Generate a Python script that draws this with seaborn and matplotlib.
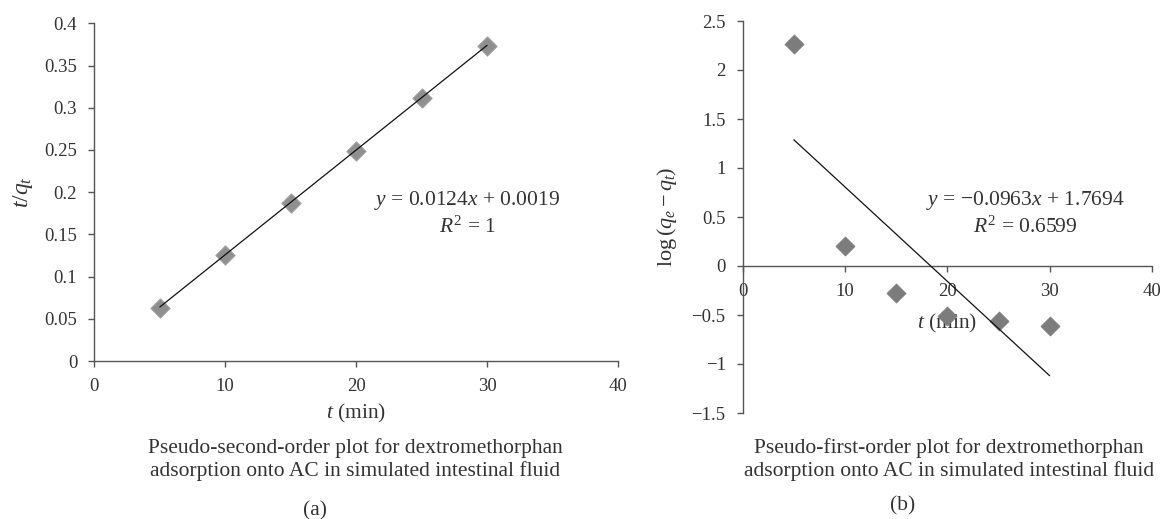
import numpy as np
import pandas as pd
import matplotlib
matplotlib.use("Agg")
import matplotlib.pyplot as plt
import seaborn as sns
from matplotlib.ticker import FixedLocator, FuncFormatter

# ---- data ----
time_min = [5, 10, 15, 20, 25, 30]
t_over_qt = [0.063, 0.126, 0.187, 0.249, 0.311, 0.373]
log_qe_minus_qt = [2.27, 0.20, -0.28, -0.51, -0.56, -0.61]
fit_a_slope, fit_a_intercept = 0.0124, 0.0019
fit_b_slope, fit_b_intercept = -0.0963, 1.7694
x_ticks = [0, 10, 20, 30, 40]
y_ticks_a = [0, 0.05, 0.1, 0.15, 0.2, 0.25, 0.3, 0.35, 0.4]
y_ticks_b = [-1.5, -1, -0.5, 0, 0.5, 1, 1.5, 2, 2.5]
eq_a = ["$y$ = 0.0124$x$ + 0.0019", "$R^2$ = 1"]
eq_b = ["$y$ = \u22120.0963$x$ + 1.7694", "$R^2$ = 0.6599"]
caption_a = ["Pseudo-second-order plot for dextromethorphan",
             "adsorption onto AC in simulated intestinal fluid"]
caption_b = ["Pseudo-first-order plot for dextromethorphan",
             "adsorption onto AC in simulated intestinal fluid"]

sns.set_theme(style="white")
plt.rcParams["font.family"] = ["Liberation Serif", "DejaVu Serif"]
plt.rcParams["mathtext.fontset"] = "custom"
plt.rcParams["mathtext.rm"] = "Liberation Serif"
plt.rcParams["mathtext.it"] = "Liberation Serif:italic"
plt.rcParams["mathtext.bf"] = "Liberation Serif:bold"

TXT = "#333333"
SPINE = "#555555"
FS_TICK = 13.5
FS = 15.5

fig = plt.figure(figsize=(11.64, 5.19), dpi=100)
axA = fig.add_axes([94.3 / 1164, 1 - 361 / 519, (618 - 94.3) / 1164, (361 - 23.3) / 519])
axB = fig.add_axes([742.7 / 1164, 1 - 413 / 519, (1152 - 742.7) / 1164, (413 - 21) / 519])

fmt = FuncFormatter(lambda v, p: ("%g" % v).replace("-", "\u2212"))

def fit_frame(slope, intercept):
    xs = np.array([min(time_min), max(time_min)], dtype=float)
    return pd.DataFrame({"x": xs, "y": slope * xs + intercept})

# Panel (a)
df_a = pd.DataFrame({"t": time_min, "v": t_over_qt})
sns.scatterplot(data=df_a, x="t", y="v", ax=axA, marker="D", s=95,
                color="#8f8f8f", edgecolor="#a0a0a0", linewidth=0.8, zorder=2)
sns.lineplot(data=fit_frame(fit_a_slope, fit_a_intercept), x="x", y="y", ax=axA,
             color="#111111", linewidth=0.9, zorder=3)
axA.set_xlim(0, 40)
axA.set_ylim(0, 0.4)
axA.xaxis.set_major_locator(FixedLocator(x_ticks))
axA.yaxis.set_major_locator(FixedLocator(y_ticks_a))
axA.xaxis.set_major_formatter(fmt)
axA.yaxis.set_major_formatter(fmt)
axA.set_xlabel("$t$ (min)", fontsize=FS, color=TXT, labelpad=5)
axA.set_ylabel("$t/q_t$", fontsize=FS + 1.5, color=TXT, labelpad=7)
axA.text(28.5, 0.19, eq_a[0], fontsize=FS, color=TXT, ha="center", va="center")
axA.text(28.5, 0.159, eq_a[1], fontsize=FS, color=TXT, ha="center", va="center")

# Panel (b)
df_b = pd.DataFrame({"t": time_min, "v": log_qe_minus_qt})
sns.scatterplot(data=df_b, x="t", y="v", ax=axB, marker="D", s=95,
                color="#7c7c7c", edgecolor="#7c7c7c", linewidth=0.5, zorder=2)
sns.lineplot(data=fit_frame(fit_b_slope, fit_b_intercept), x="x", y="y", ax=axB,
             color="#111111", linewidth=0.9, zorder=3)
axB.set_xlim(0, 40)
axB.set_ylim(-1.5, 2.5)
axB.xaxis.set_major_locator(FixedLocator(x_ticks))
axB.yaxis.set_major_locator(FixedLocator(y_ticks_b))
axB.xaxis.set_major_formatter(fmt)
axB.yaxis.set_major_formatter(fmt)
axB.spines["bottom"].set_position(("data", 0))
axB.set_xlabel("$t$ (min)", fontsize=FS, color=TXT)
axB.xaxis.set_label_coords(0.5, 0.258)
axB.set_ylabel("$\\mathrm{log}\\,(q_e - q_t)$", fontsize=FS + 0.5, color=TXT, labelpad=9)
axB.text(27.6, 0.666, eq_b[0], fontsize=FS, color=TXT, ha="center", va="center")
axB.text(27.6, 0.40, eq_b[1], fontsize=FS, color=TXT, ha="center", va="center")

for ax in (axA, axB):
    sns.despine(ax=ax)
    ax.set_facecolor("white")
    for side in ("left", "bottom"):
        ax.spines[side].set_color(SPINE)
        ax.spines[side].set_linewidth(1.0)
    ax.tick_params(axis="both", which="major", direction="out", length=4.3,
                   width=1.0, color=SPINE, labelcolor=TXT, labelsize=FS_TICK,
                   bottom=True, left=True)
    ax.tick_params(axis="y", pad=8)
    ax.tick_params(axis="x", pad=8)
    ax.grid(False)

# Captions
fig.text(355 / 1164, 1 - 448 / 519, caption_a[0], fontsize=FS, color=TXT, ha="center", va="center")
fig.text(355 / 1164, 1 - 471 / 519, caption_a[1], fontsize=FS, color=TXT, ha="center", va="center")
fig.text(315 / 1164, 1 - 511 / 519, "(a)", fontsize=FS, color=TXT, ha="center", va="center")
fig.text(949 / 1164, 1 - 448 / 519, caption_b[0], fontsize=FS, color=TXT, ha="center", va="center")
fig.text(949 / 1164, 1 - 471 / 519, caption_b[1], fontsize=FS, color=TXT, ha="center", va="center")
fig.text(903 / 1164, 1 - 506 / 519, "(b)", fontsize=FS, color=TXT, ha="center", va="center")

fig.savefig("out.png", dpi=100, facecolor="white")
